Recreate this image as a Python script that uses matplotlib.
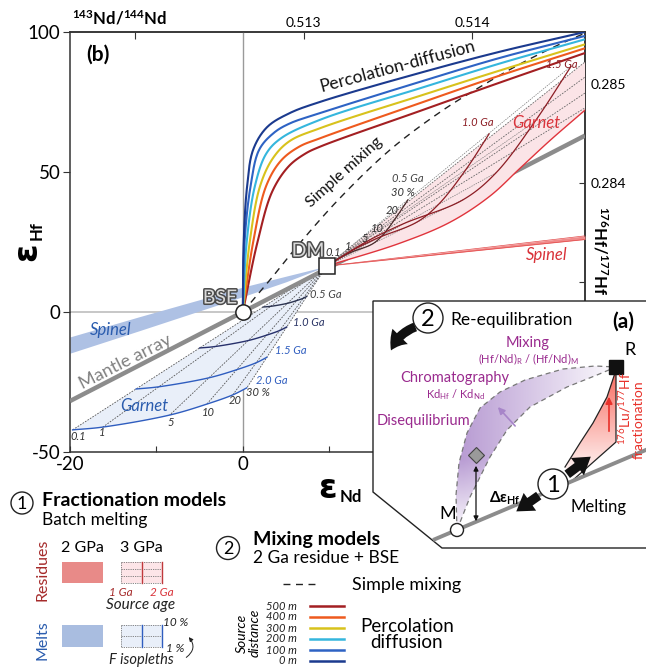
import numpy as np
import matplotlib
matplotlib.use('Agg')
import matplotlib.pyplot as plt
from matplotlib.patches import Polygon, Circle, Rectangle, FancyArrowPatch
import matplotlib.patheffects as pe

plt.rcParams['font.family'] = ['Lato', 'DejaVu Sans']
plt.rcParams['mathtext.fontset'] = 'custom'
plt.rcParams['mathtext.rm'] = 'Lato'
plt.rcParams['mathtext.it'] = 'Lato:italic'
plt.rcParams['mathtext.bf'] = 'Lato:bold'

# ---------------- data (eNd, eHf) ----------------
BSE = (0.0, 0.0)
DM = (9.7, 16.4)

mantle_nd = [-20.0, 39.6]
mantle_hf = [-31.8, 63.0]

perc_labels = ['500 m', '400 m', '300 m', '200 m', '100 m', '0 m']
perc_colors = ['#a31f22', '#ee5a1e', '#d8c21c', '#35b6dd', '#2e63c4', '#1b3a8e']
perc_nd = [
    [0, 1.7, 3.4, 5.3, 7.2, 8.9, 20.5, 29.8, 39.6],
    [0, 1.2, 2.7, 4.4, 6.5, 8.9, 20.5, 29.8, 39.6],
    [0, 0.8, 2.0, 3.5, 5.4, 8.9, 20.5, 29.8, 39.6],
    [0, 0.45, 1.4, 2.7, 4.4, 8.9, 20.5, 29.8, 39.6],
    [0, 0.2, 0.9, 1.9, 3.6, 5.4, 8.9, 20.5, 29.8, 39.6],
    [0, 0.1, 0.5, 1.2, 2.8, 5.4, 8.9, 20.5, 29.8, 39.6],
]
perc_hf = [
    [0, 25, 43, 52, 56.5, 59.0, 71.8, 82.0, 92.5],
    [0, 25, 45, 54, 59, 62.0, 74.6, 84.5, 94.2],
    [0, 25, 45, 55, 61, 65.6, 77.2, 86.3, 95.6],
    [0, 25, 45, 56.5, 62, 68.6, 79.9, 88.8, 97.4],
    [0, 25, 45, 58, 64, 67.3, 71.0, 82.2, 90.8, 98.6],
    [0, 25, 45, 58, 66, 71, 75, 85.4, 93.0, 100.0],
]

mix_nd = [0, 3.13, 6.6, 11.24, 17.03, 22.83, 27.46, 32.1, 36.73, 39.6]
mix_hf = [0, 11.4, 24.6, 40.7, 57.9, 71.4, 80.4, 88.6, 95.7, 99.6]

# spinel melts band (blue)
spm_nd = [-20, -12, -5, 0, 5, 9.7]
spm_hf_c = [-11.8, -4.2, 2.4, 7.2, 11.8, 16.4]
spm_half = [2.9, 2.5, 2.0, 1.7, 1.0, 0.0]

# spinel residues band (red)
spr_nd = [9.7, 39.6]
spr_hf_up = [16.4, 27.2]
spr_hf_lo = [16.4, 25.9]

# garnet melts grid
melt_F = ['0.1', '1', '5', '10', '20', '30 %']
melt_ages = ['0.5 Ga', '1.0 Ga', '1.5 Ga', '2.0 Ga']
melt_nd = [
    [2.35, 3.23, 5.16, 6.23, 6.99, 7.39],
    [-5.0, -3.25, 0.62, 2.77, 4.27, 5.08],
    [-12.35, -9.7, -3.92, -0.7, 1.56, 2.77],
    [-19.7, -16.2, -8.46, -4.17, -1.16, 0.46],
]
melt_hf = [
    [1.78, 2.03, 3.1, 4.08, 4.9, 5.53],
    [-12.85, -12.35, -10.2, -8.25, -6.6, -5.35],
    [-27.5, -26.7, -23.5, -20.6, -18.1, -16.2],
    [-42.1, -41.1, -36.8, -32.9, -29.6, -27.1],
]
melt_age_colors = ['#2b3350', '#27306b', '#2f5dbf', '#2f5dbf']

# garnet residues grid
res_ages = ['0.5 Ga', '1.0 Ga', '1.5 Ga']
res_nd = [
    [11.2, 12.6, 15.0, 16.2, 17.7, 19.1],
    [12.8, 15.6, 20.2, 22.7, 25.8, 28.5],
    [14.3, 18.5, 25.5, 29.3, 33.8, 38.0],
]
res_hf = [
    [19.3, 21.4, 24.3, 27.5, 33.6, 40.0],
    [22.2, 26.4, 32.2, 38.6, 50.8, 63.6],
    [25.1, 31.4, 40.1, 49.7, 68.0, 87.8],
]
res_ray_hf = [89.3, 83.9, 78.2, 72.9]
res_low_nd = [9.7, 18.2, 24.0, 28.6, 32.1, 35.6, 39.6]
res_low_hf = [16.4, 24.6, 32.1, 41.4, 51.4, 61.4, 72.1]

# ---------------- helpers ----------------
SX, SY = 8.65, 2.8


def smooth(xs, ys, n=16):
    P = np.column_stack([np.asarray(xs, float) * SX, np.asarray(ys, float) * SY])
    if len(P) < 3:
        return P[:, 0] / SX, P[:, 1] / SY
    P = np.vstack([2 * P[0] - P[1], P, 2 * P[-1] - P[-2]])
    out = []
    for i in range(1, len(P) - 2):
        p0, p1, p2, p3 = P[i - 1], P[i], P[i + 1], P[i + 2]
        t0 = 0.0
        t1 = t0 + max(np.linalg.norm(p1 - p0), 1e-6) ** 0.5
        t2 = t1 + max(np.linalg.norm(p2 - p1), 1e-6) ** 0.5
        t3 = t2 + max(np.linalg.norm(p3 - p2), 1e-6) ** 0.5
        t = np.linspace(t1, t2, n)[:, None]
        A1 = (t1 - t) / (t1 - t0) * p0 + (t - t0) / (t1 - t0) * p1
        A2 = (t2 - t) / (t2 - t1) * p1 + (t - t1) / (t2 - t1) * p2
        A3 = (t3 - t) / (t3 - t2) * p2 + (t - t2) / (t3 - t2) * p3
        B1 = (t2 - t) / (t2 - t0) * A1 + (t - t0) / (t2 - t0) * A2
        B2 = (t3 - t) / (t3 - t1) * A2 + (t - t1) / (t3 - t1) * A3
        C = (t2 - t) / (t2 - t1) * B1 + (t - t1) / (t2 - t1) * B2
        out.append(C if i == len(P) - 3 else C[:-1])
    out = np.vstack(out)
    return out[:, 0] / SX, out[:, 1] / SY


W, H = 646, 667
fig = plt.figure(figsize=(W / 100, H / 100), dpi=100)
ax = fig.add_axes([70 / W, 1 - 452 / H, 515 / W, 420 / H])
ax.set_xlim(-20, 39.6)
ax.set_ylim(-50, 100)

for s in ax.spines.values():
    s.set_color('#333333')
    s.set_linewidth(1.1)
ax.set_xticks([-20, -10, 0, 10, 20, 30])
ax.set_xticklabels(['-20', '', '0', '', '', ''])
ax.set_yticks([-50, 0, 50, 100])
ax.set_yticklabels(['-50', '0', '50', '100'])
ax.tick_params(axis='x', direction='in', length=4, labelsize=13.5, pad=3, color='#333333')
ax.tick_params(axis='y', direction='out', length=5, labelsize=13.5, pad=2, color='#333333')

# secondary axes
CHUR_ND, CHUR_HF = 0.512638, 0.2827
secx = ax.secondary_xaxis('top', functions=(lambda e: (e / 1e4 + 1) * CHUR_ND,
                                             lambda r: (r / CHUR_ND - 1) * 1e4))
secx.set_xticks([0.512, 0.513, 0.514])
secx.set_xticklabels(['', '0.513', '0.514'])
secx.tick_params(direction='in', length=5, labelsize=10, pad=2, color='#333333')
secy = ax.secondary_yaxis('right', functions=(lambda e: (e / 1e4 + 1) * CHUR_HF,
                                               lambda r: (r / CHUR_HF - 1) * 1e4))
secy.set_yticks([0.283, 0.284, 0.285])
secy.set_yticklabels(['', '0.284', '0.285'])
secy.tick_params(direction='in', length=4, labelsize=10, pad=4, color='#333333')
for sa in (secx, secy):
    for s in sa.spines.values():
        s.set_color('#333333')
        s.set_linewidth(1.1)

# reference lines
ax.axhline(0, color='#bdbdbd', lw=1.2, zorder=0.5)
ax.axvline(0, color='#9a9a9a', lw=1.0, zorder=0.5)

# spinel melts band
c = np.array(spm_hf_c)
hw = np.array(spm_half)
ax.fill_between(spm_nd, c - hw, c + hw, color='#aec1e4', lw=0, zorder=1)

# garnet melts field
bx, by = smooth(melt_nd[-1], melt_hf[-1])
ax.fill(np.r_[DM[0], bx, DM[0]], np.r_[DM[1], by, DM[1]], color='#e9eff9', lw=0, zorder=1.2)
for k in range(len(melt_F)):
    ax.plot([DM[0], melt_nd[-1][k]], [DM[1], melt_hf[-1][k]], ls=(0, (2, 1.5)),
            color='#555555', lw=0.6, zorder=2)
for a in range(len(melt_ages)):
    sx_, sy_ = smooth(melt_nd[a], melt_hf[a])
    ax.plot(sx_, sy_, color=melt_age_colors[a], lw=1.0, zorder=2.5)

# mantle array
ax.plot(mantle_nd, mantle_hf, color='#8c8c8c', lw=3.2, solid_capstyle='butt', zorder=3)

# spinel residues band
ax.fill_between(spr_nd, spr_hf_lo, spr_hf_up, color='#f08a8a', lw=0, zorder=3.5)
ax.plot(spr_nd, spr_hf_up, color='#e24a4a', lw=0.5, zorder=3.6)
ax.plot(spr_nd, spr_hf_lo, color='#e24a4a', lw=0.5, zorder=3.6)

# garnet residues field
lx, ly = smooth(res_low_nd, res_low_hf)
ax.fill(np.r_[DM[0], 39.6, lx[::-1]], np.r_[DM[1], res_ray_hf[0], ly[::-1]],
        color='#fbe4e7', lw=0, zorder=4)
for v in res_ray_hf:
    ax.plot([DM[0], 39.6], [DM[1], v], ls=(0, (2, 1.5)), color='#666666', lw=0.6, zorder=4.2)
for k in range(len(res_nd[0])):
    ax.plot([DM[0], res_nd[-1][k]], [DM[1], res_hf[-1][k]], ls=(0, (2, 1.5)),
            color='#777777', lw=0.5, zorder=4.2)
ax.plot(lx, ly, color='#e0343c', lw=1.0, zorder=4.5)
for a in range(len(res_ages)):
    sx_, sy_ = smooth([DM[0]] + res_nd[a], [DM[1]] + res_hf[a])
    ax.plot(sx_, sy_, color='#8c1d24' if a else '#4a2a2a', lw=0.9, zorder=4.6)

# simple mixing
mx, my = smooth(mix_nd, mix_hf)
ax.plot(mx, my, color='#222222', lw=1.0, ls=(0, (5, 4)), zorder=5)

# percolation-diffusion
for k in range(len(perc_labels)):
    px_, py_ = smooth(perc_nd[k], perc_hf[k])
    ax.plot(px_, py_, color=perc_colors[k], lw=1.5, zorder=6, solid_capstyle='butt')

# BSE & DM
ax.plot(*BSE, marker='o', ms=11, mfc='white', mec='#222222', mew=1.1, zorder=10, clip_on=False)
ax.plot(*DM, marker='s', ms=11, mfc='white', mec='#222222', mew=1.1, zorder=10, clip_on=False)

# ---------------- overlay (pixel coordinates) ----------------
ov = fig.add_axes([0, 0, 1, 1])
ov.set_xlim(0, W)
ov.set_ylim(H, 0)
ov.axis('off')


def T(x, y, s, **kw):
    kw.setdefault('ha', 'center')
    kw.setdefault('va', 'center')
    return ov.text(x, y, s, **kw)


# axis labels
T(72, 18, r'$^\mathbf{143}$Nd/$^\mathbf{144}$Nd', ha='left', fontsize=12, fontweight='bold')
T(600, 250, r'$^\mathbf{176}$Hf/$^\mathbf{177}$Hf', rotation=-90, fontsize=12, fontweight='bold')
T(27, 252, 'ε', rotation=90, fontsize=24, fontweight='bold', family='DejaVu Sans')
T(37, 231, 'Hf', rotation=90, fontsize=12, fontweight='bold')
T(328, 488, 'ε', fontsize=24, fontweight='bold', family='DejaVu Sans')
T(351, 497, 'Nd', fontsize=12, fontweight='bold')

T(98, 55, '(b)', fontsize=15, fontweight='bold')
stroke = [pe.withStroke(linewidth=2.2, foreground='#4a4a4a')]
T(220, 298, 'BSE', fontsize=14, color='#d9d9d9', path_effects=stroke)
T(308, 251, 'DM', fontsize=14, color='#d9d9d9', path_effects=stroke)

T(398, 66, 'Percolation-diffusion', fontsize=12.5, rotation=15, color='#111111')
T(344, 172, 'Simple mixing', fontsize=11.5, rotation=42, color='#111111')
T(125, 362, 'Mantle array', fontsize=13, rotation=27, color='#808080')
T(111, 330, 'Spinel', fontsize=12, style='italic', color='#2a5cae')
T(144, 406, 'Garnet', fontsize=12, style='italic', color='#2a5cae')
T(536, 123, 'Garnet', fontsize=12, style='italic', color='#d9333a')
T(547, 255, 'Spinel', fontsize=12, style='italic', color='#d9333a')

it = dict(style='italic', fontsize=8)
T(310, 294, melt_ages[0], ha='left', color='#444444', **it)
T(293, 322, melt_ages[1], ha='left', color='#2b3566', **it)
T(275, 350, melt_ages[2], ha='left', color='#2f5dbf', **it)
T(256, 380, melt_ages[3], ha='left', color='#2f5dbf', **it)
for (x, y), s in zip([(78, 436), (102, 433), (171, 423), (208, 412), (235, 400), (258, 393)], melt_F):
    T(x, y, s, color='#333333', **it)
for (x, y), s in zip([(333, 253), (348, 247), (365, 238), (377, 229), (392, 211), (403, 193)], melt_F):
    T(x, y, s, color='#333333', **it)
T(408, 179, res_ages[0], color='#444444', **it)
T(478, 123, res_ages[1], color='#8c1d24', **it)
T(562, 64, res_ages[2], color='#8c1d24', **it)

# ---------------- inset (a) ----------------
inset = Polygon([(373, 301), (660, 301), (660, 548), (442, 548), (373, 492)], closed=True,
                fc='white', ec='#222222', lw=1.0, zorder=20)
ov.add_patch(inset)

outer = np.array([(457, 530), (456, 495), (459, 463), (467, 433), (480, 408), (500, 392),
                  (525, 380), (563, 369), (595, 366), (616, 367)])
inner = np.array([(457, 530), (470, 497), (490, 457), (507, 430), (530, 407), (567, 387),
                  (597, 375), (616, 367)])
ring = np.vstack([outer, inner[::-1]])
ppatch = Polygon(ring, closed=True, fc='none', ec='none', zorder=21)
ov.add_patch(ppatch)
gx, gy = np.meshgrid(np.linspace(450, 620, 120), np.linspace(360, 535, 120))
alpha = np.clip(1.05 - (gx - 455) / 160, 0, 1) * np.clip((535 - gy) / 75, 0, 1) * 0.85
img = np.zeros(gx.shape + (4,))
img[..., 0], img[..., 1], img[..., 2] = 0.68, 0.55, 0.80
img[..., 3] = alpha
im = ov.imshow(img, extent=(450, 620, 535, 360), origin='upper', aspect='auto', zorder=21,
               interpolation='bilinear')
im.set_clip_path(ppatch)
ov.plot(outer[:, 0], outer[:, 1], color='#777777', lw=0.9, ls=(0, (4, 3)), zorder=22)
ov.plot(inner[:, 0], inner[:, 1], color='#777777', lw=0.9, ls=(0, (4, 3)), zorder=22)

lineA = np.array([(616, 370), (607, 397), (593, 423), (580, 443), (565, 467)])
lineB = np.array([(616, 372), (616, 442), (573, 480)])
rpoly = Polygon(np.vstack([lineA, lineB[::-1]]), closed=True, fc='none', ec='none', zorder=21)
ov.add_patch(rpoly)
gx2, gy2 = np.meshgrid(np.linspace(560, 620, 60), np.linspace(365, 485, 120))
img2 = np.zeros(gx2.shape + (4,))
img2[..., 0], img2[..., 1], img2[..., 2] = 0.97, 0.35, 0.30
img2[..., 3] = np.clip((480 - gy2) / 110, 0, 1) * 0.9
im2 = ov.imshow(img2, extent=(560, 620, 485, 365), origin='upper', aspect='auto', zorder=21,
                interpolation='bilinear')
im2.set_clip_path(rpoly)
ov.plot(lineA[:, 0], lineA[:, 1], color='#222222', lw=0.9, zorder=22)
ov.plot(lineB[:, 0], lineB[:, 1], color='#222222', lw=0.9, zorder=22)

ov.plot([433, 660], [540, 444], color='#8c8c8c', lw=2.8, zorder=22, solid_capstyle='butt')
ov.add_patch(Circle((457, 530), 6.5, fc='white', ec='#222222', lw=1.0, zorder=24))
ov.add_patch(Rectangle((609, 360), 14, 14, fc='#111111', ec='#111111', zorder=24))
T(448, 514, 'M', fontsize=13, zorder=25)
T(630, 350, 'R', fontsize=13, zorder=25)

ov.plot([476], [455], marker='D', ms=8, mfc='#9a9a9a', mec='#444444', mew=0.8, zorder=24)
ov.add_patch(FancyArrowPatch((476, 463), (476, 524), arrowstyle='<|-|>', mutation_scale=7,
                             color='#111111', lw=0.9, zorder=24))
T(489, 498, r'Δε$_\mathbf{Hf}$', ha='left', fontsize=11, fontweight='bold', zorder=25)
ov.add_patch(FancyArrowPatch((517, 428), (496, 405), arrowstyle='-|>', mutation_scale=10,
                             color='#a785c9', lw=1.2, zorder=24))
ov.add_patch(FancyArrowPatch((609, 434), (609, 394), arrowstyle='-|>', mutation_scale=10,
                             color='#e8312a', lw=1.2, zorder=24))

purple = '#9a2a8e'
T(528, 343, 'Mixing', fontsize=10.5, color=purple, zorder=25)
T(528, 359, r'(Hf/Nd)$_\mathregular{R}$ / (Hf/Nd)$_\mathregular{M}$', fontsize=8, color=purple, zorder=25)
T(455, 378, 'Chromatography', fontsize=10.5, color=purple, zorder=25)
T(455, 395, r'Kd$_\mathregular{Hf}$ / Kd$_\mathregular{Nd}$', fontsize=8, color=purple, zorder=25)
T(423, 421, 'Disequilibrium', fontsize=10.5, color=purple, zorder=25)
T(625, 408, r'$^\mathregular{176}$Lu/$^\mathregular{177}$Hf', rotation=90, fontsize=10,
  color='#e8312a', zorder=25)
T(639, 420, 'fractionation', rotation=90, fontsize=10, color='#e8312a', zorder=25)

big = 'simple,head_width=1.3,head_length=1.0,tail_width=0.55'
ov.add_patch(FancyArrowPatch((565, 476), (593, 455), arrowstyle=big,
                             mutation_scale=12, color='#111111', lw=0, zorder=24))
ov.add_patch(FancyArrowPatch((541, 494), (514, 513), arrowstyle=big,
                             mutation_scale=12, color='#111111', lw=0, zorder=24))
ov.add_patch(Circle((553, 484), 15, fc='white', ec='#222222', lw=1.0, zorder=25))
T(553, 485, '1', fontsize=17, zorder=26)
T(598, 507, 'Melting', fontsize=12, zorder=25)

ov.add_patch(FancyArrowPatch((418, 326), (390, 353), arrowstyle=big,
                             mutation_scale=12, color='#111111', lw=0, zorder=24,
                             connectionstyle='arc3,rad=0.25'))
ov.add_patch(Circle((428, 318), 15, fc='white', ec='#222222', lw=1.0, zorder=25))
T(428, 319, '2', fontsize=17, zorder=26)
T(450, 320, 'Re-equilibration', ha='left', fontsize=12.5, zorder=25)
T(623, 322, '(a)', fontsize=15, fontweight='bold', zorder=25)

# ---------------- legend ----------------
ov.add_patch(Circle((22, 503), 11, fc='white', ec='#222222', lw=1.0))
T(22, 504, '1', fontsize=13)
T(42, 500, 'Fractionation models', ha='left', fontsize=14, fontweight='bold')
T(42, 520, 'Batch melting', ha='left', fontsize=12.5)
T(42, 570, 'Residues', rotation=90, fontsize=11.5, color='#a52a2a')
T(82, 548, '2 GPa', fontsize=11.5)
T(141, 548, '3 GPa', fontsize=11.5)
ov.add_patch(Rectangle((62, 562), 41, 21, fc='#e88a88', ec='none'))
ov.add_patch(Rectangle((121, 562), 41, 21, fc='#fde5e8', ec='none'))
for yy in (562, 569, 576, 583):
    ov.plot([121, 162], [yy, yy], color='#777777', lw=0.6, ls=(0, (1.5, 1.2)))
ov.plot([121, 121], [562, 583], color='#777777', lw=0.6, ls=(0, (1.5, 1.2)))
ov.plot([141.5, 141.5], [562, 583], color='#c0393c', lw=1.0)
ov.plot([162, 162], [562, 583], color='#c0393c', lw=1.0)
T(121, 593, '1 Ga', fontsize=8.5, style='italic', color='#a52a2a')
T(162, 593, '2 Ga', fontsize=8.5, style='italic', color='#d9333a')
T(141, 605, 'Source age', fontsize=11, style='italic', color='#222222')

T(42, 640, 'Melts', rotation=90, fontsize=11.5, color='#2a5cae')
ov.add_patch(Rectangle((62, 625), 41, 22, fc='#a9bde0', ec='none'))
ov.add_patch(Rectangle((121, 625), 41, 22, fc='#e9eff9', ec='none'))
for yy in (625, 636, 647):
    ov.plot([121, 162], [yy, yy], color='#777777', lw=0.6, ls=(0, (1.5, 1.2)))
ov.plot([121, 121], [625, 647], color='#777777', lw=0.6, ls=(0, (1.5, 1.2)))
ov.plot([141.5, 141.5], [625, 647], color='#2f5dbf', lw=1.0)
ov.plot([162, 162], [625, 647], color='#2f5dbf', lw=1.0)
T(176, 622, '10 %', fontsize=8.5, style='italic', color='#222222')
T(175, 648, '1 %', fontsize=8.5, style='italic', color='#222222')
ov.add_patch(FancyArrowPatch((184, 659), (187, 635), arrowstyle='-|>', mutation_scale=6,
                             color='#222222', lw=0.7, connectionstyle='arc3,rad=0.6'))
T(141, 660, 'F isopleths', fontsize=10.5, style='italic', color='#222222')

ov.add_patch(Circle((228, 548), 11.5, fc='white', ec='#222222', lw=1.0))
T(228, 549, '2', fontsize=13)
T(253, 540, 'Mixing models', ha='left', fontsize=14, fontweight='bold')
T(253, 558, '2 Ga residue + BSE', ha='left', fontsize=12.5)
ov.plot([283, 318], [584, 584], color='#222222', lw=1.0, ls=(0, (5, 4)))
T(352, 585, 'Simple mixing', ha='left', fontsize=13)
T(242, 633, 'Source', rotation=90, fontsize=10, style='italic')
T(255, 633, 'distance', rotation=90, fontsize=10, style='italic')
ys = [606, 617, 628, 639, 650, 661]
for k in range(len(perc_labels)):
    T(297, ys[k], perc_labels[k], ha='right', fontsize=8, style='italic', color='#222222')
    ov.plot([310, 344], [ys[k], ys[k]], color=perc_colors[k], lw=1.8)
T(407, 626, 'Percolation', fontsize=13.5)
T(407, 643, 'diffusion', fontsize=13.5)

fig.savefig('out.png', dpi=100)
